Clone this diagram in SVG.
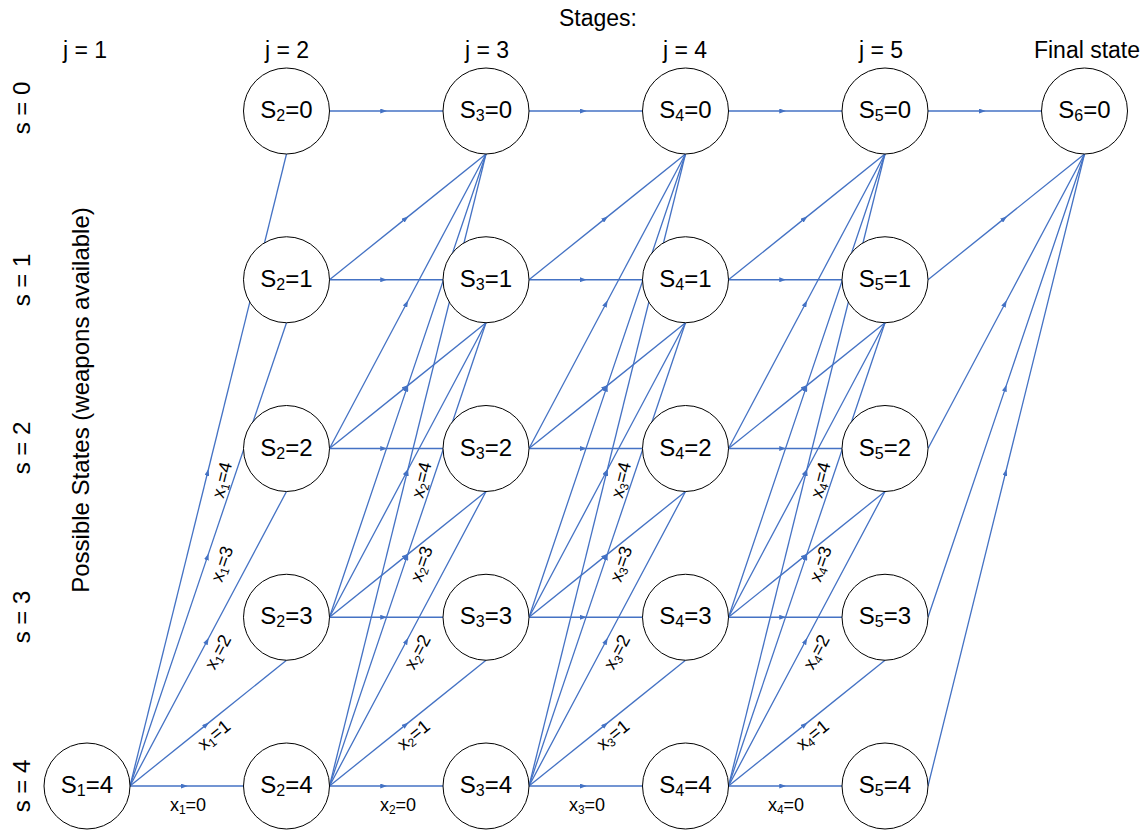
<svg xmlns="http://www.w3.org/2000/svg" width="1148" height="830" viewBox="0 0 1148 830">
  <defs>
    <marker id="arrow" viewBox="0 0 7 5" refX="6" refY="2.5" markerWidth="7" markerHeight="5" markerUnits="userSpaceOnUse" orient="auto">
      <path d="M0,0 L7,2.5 L0,5 z" fill="#4472C4"/>
    </marker>
    <style>
      text { font-family: "Liberation Sans", Arial, sans-serif; fill: #000; }
      .head { font-size: 23px; text-anchor: middle; }
      .state { font-size: 24px; text-anchor: middle; }
      .node circle { fill: #fff; stroke: #000; stroke-width: 1; }
      .node text { font-size: 24px; text-anchor: middle; }
      .sub { font-size: 16px; }
      .edges path { fill: none; stroke: #4472C4; stroke-width: 1.3; marker-mid: url(#arrow); }
      .lbl { font-size: 18px; text-anchor: middle; }
      .lsub { font-size: 12px; }
    </style>
  </defs>
  <rect width="1148" height="830" fill="#fff"/>

  <!-- stage headings -->
  <g id="headings">
    <text class="head" x="598" y="26">Stages:</text>
    <text class="head" x="85" y="58">j = 1</text>
    <text class="head" x="287" y="58">j = 2</text>
    <text class="head" x="487" y="58">j = 3</text>
    <text class="head" x="685" y="58">j = 4</text>
    <text class="head" x="881" y="58">j = 5</text>
    <text class="head" x="1087" y="58">Final state</text>
  </g>

  <!-- state headings down the left side -->
  <g id="state-axis">
    <text class="state" transform="translate(30,108) rotate(-90)">s = 0</text>
    <text class="state" transform="translate(30,280) rotate(-90)">s = 1</text>
    <text class="state" transform="translate(30,448) rotate(-90)">s = 2</text>
    <text class="state" transform="translate(30,617) rotate(-90)">s = 3</text>
    <text class="state" transform="translate(30,786) rotate(-90)">s = 4</text>
    <text class="state" transform="translate(89,400) rotate(-90)">Possible States (weapons available)</text>
  </g>

  <!-- transitions: from state s to state s - x at the next stage -->
  <g id="connectors" class="edges">
    <!-- stage 1 -->
    <path d="M130,786 L186.75,786 L243.5,786"/>
    <path d="M130,786 L208.25,723.125 L286.5,660.25"/>
    <path d="M130,786 L208.25,638.75 L286.5,491.5"/>
    <path d="M130,786 L208.25,554.375 L286.5,322.75"/>
    <path d="M130,786 L208.25,470 L286.5,154"/>

    <!-- stage 2 -->
    <path d="M329.5,111 L386.25,111 L443,111"/>
    <path d="M329.5,279.75 L386.25,279.75 L443,279.75"/>
    <path d="M329.5,279.75 L407.75,216.875 L486,154"/>
    <path d="M329.5,448.5 L386.25,448.5 L443,448.5"/>
    <path d="M329.5,448.5 L407.75,385.625 L486,322.75"/>
    <path d="M329.5,448.5 L407.75,301.25 L486,154"/>
    <path d="M329.5,617.25 L386.25,617.25 L443,617.25"/>
    <path d="M329.5,617.25 L407.75,554.375 L486,491.5"/>
    <path d="M329.5,617.25 L407.75,470 L486,322.75"/>
    <path d="M329.5,617.25 L407.75,385.625 L486,154"/>
    <path d="M329.5,786 L386.25,786 L443,786"/>
    <path d="M329.5,786 L407.75,723.125 L486,660.25"/>
    <path d="M329.5,786 L407.75,638.75 L486,491.5"/>
    <path d="M329.5,786 L407.75,554.375 L486,322.75"/>
    <path d="M329.5,786 L407.75,470 L486,154"/>

    <!-- stage 3 -->
    <path d="M529,111 L585.75,111 L642.5,111"/>
    <path d="M529,279.75 L585.75,279.75 L642.5,279.75"/>
    <path d="M529,279.75 L607.25,216.875 L685.5,154"/>
    <path d="M529,448.5 L585.75,448.5 L642.5,448.5"/>
    <path d="M529,448.5 L607.25,385.625 L685.5,322.75"/>
    <path d="M529,448.5 L607.25,301.25 L685.5,154"/>
    <path d="M529,617.25 L585.75,617.25 L642.5,617.25"/>
    <path d="M529,617.25 L607.25,554.375 L685.5,491.5"/>
    <path d="M529,617.25 L607.25,470 L685.5,322.75"/>
    <path d="M529,617.25 L607.25,385.625 L685.5,154"/>
    <path d="M529,786 L585.75,786 L642.5,786"/>
    <path d="M529,786 L607.25,723.125 L685.5,660.25"/>
    <path d="M529,786 L607.25,638.75 L685.5,491.5"/>
    <path d="M529,786 L607.25,554.375 L685.5,322.75"/>
    <path d="M529,786 L607.25,470 L685.5,154"/>

    <!-- stage 4 -->
    <path d="M728.5,111 L785.25,111 L842,111"/>
    <path d="M728.5,279.75 L785.25,279.75 L842,279.75"/>
    <path d="M728.5,279.75 L806.75,216.875 L885,154"/>
    <path d="M728.5,448.5 L785.25,448.5 L842,448.5"/>
    <path d="M728.5,448.5 L806.75,385.625 L885,322.75"/>
    <path d="M728.5,448.5 L806.75,301.25 L885,154"/>
    <path d="M728.5,617.25 L785.25,617.25 L842,617.25"/>
    <path d="M728.5,617.25 L806.75,554.375 L885,491.5"/>
    <path d="M728.5,617.25 L806.75,470 L885,322.75"/>
    <path d="M728.5,617.25 L806.75,385.625 L885,154"/>
    <path d="M728.5,786 L785.25,786 L842,786"/>
    <path d="M728.5,786 L806.75,723.125 L885,660.25"/>
    <path d="M728.5,786 L806.75,638.75 L885,491.5"/>
    <path d="M728.5,786 L806.75,554.375 L885,322.75"/>
    <path d="M728.5,786 L806.75,470 L885,154"/>

    <!-- stage 5: everything left is used -->
    <path d="M928,111 L984.75,111 L1041.5,111"/>
    <path d="M928,279.75 L1006.25,216.875 L1084.5,154"/>
    <path d="M928,448.5 L1006.25,301.25 L1084.5,154"/>
    <path d="M928,617.25 L1006.25,385.625 L1084.5,154"/>
    <path d="M928,786 L1006.25,470 L1084.5,154"/>
  </g>

  <!-- decision labels on the edges leaving s = 4 -->
  <g id="edge-labels">
    <text class="lbl" x="188" y="811">x<tspan class="lsub" dy="3">1</tspan><tspan dy="-3">=0</tspan></text>
    <text class="lbl" transform="translate(214,735) rotate(-38.8)" y="6">x<tspan class="lsub" dy="3">1</tspan><tspan dy="-3">=1</tspan></text>
    <text class="lbl" transform="translate(218,652) rotate(-62)" y="6">x<tspan class="lsub" dy="3">1</tspan><tspan dy="-3">=2</tspan></text>
    <text class="lbl" transform="translate(222,564) rotate(-71.3)" y="6">x<tspan class="lsub" dy="3">1</tspan><tspan dy="-3">=3</tspan></text>
    <text class="lbl" transform="translate(222,480) rotate(-76.1)" y="6">x<tspan class="lsub" dy="3">1</tspan><tspan dy="-3">=4</tspan></text>

    <text class="lbl" x="398" y="811">x<tspan class="lsub" dy="3">2</tspan><tspan dy="-3">=0</tspan></text>
    <text class="lbl" transform="translate(413.5,735) rotate(-38.8)" y="6">x<tspan class="lsub" dy="3">2</tspan><tspan dy="-3">=1</tspan></text>
    <text class="lbl" transform="translate(417.5,652) rotate(-62)" y="6">x<tspan class="lsub" dy="3">2</tspan><tspan dy="-3">=2</tspan></text>
    <text class="lbl" transform="translate(421.5,564) rotate(-71.3)" y="6">x<tspan class="lsub" dy="3">2</tspan><tspan dy="-3">=3</tspan></text>
    <text class="lbl" transform="translate(421.5,480) rotate(-76.1)" y="6">x<tspan class="lsub" dy="3">2</tspan><tspan dy="-3">=4</tspan></text>

    <text class="lbl" x="587" y="811">x<tspan class="lsub" dy="3">3</tspan><tspan dy="-3">=0</tspan></text>
    <text class="lbl" transform="translate(613,735) rotate(-38.8)" y="6">x<tspan class="lsub" dy="3">3</tspan><tspan dy="-3">=1</tspan></text>
    <text class="lbl" transform="translate(617,652) rotate(-62)" y="6">x<tspan class="lsub" dy="3">3</tspan><tspan dy="-3">=2</tspan></text>
    <text class="lbl" transform="translate(621,564) rotate(-71.3)" y="6">x<tspan class="lsub" dy="3">3</tspan><tspan dy="-3">=3</tspan></text>
    <text class="lbl" transform="translate(621,480) rotate(-76.1)" y="6">x<tspan class="lsub" dy="3">3</tspan><tspan dy="-3">=4</tspan></text>

    <text class="lbl" x="786" y="811">x<tspan class="lsub" dy="3">4</tspan><tspan dy="-3">=0</tspan></text>
    <text class="lbl" transform="translate(812.5,735) rotate(-38.8)" y="6">x<tspan class="lsub" dy="3">4</tspan><tspan dy="-3">=1</tspan></text>
    <text class="lbl" transform="translate(816.5,652) rotate(-62)" y="6">x<tspan class="lsub" dy="3">4</tspan><tspan dy="-3">=2</tspan></text>
    <text class="lbl" transform="translate(820.5,564) rotate(-71.3)" y="6">x<tspan class="lsub" dy="3">4</tspan><tspan dy="-3">=3</tspan></text>
    <text class="lbl" transform="translate(820.5,480) rotate(-76.1)" y="6">x<tspan class="lsub" dy="3">4</tspan><tspan dy="-3">=4</tspan></text>
  </g>

  <!-- state nodes -->
  <g id="n1_4" class="node"><circle cx="87" cy="786" r="43"/><text x="87" y="793">S<tspan class="sub" dy="3">1</tspan><tspan dy="-3">=4</tspan></text></g>

  <g id="n2_0" class="node"><circle cx="286.5" cy="111" r="43"/><text x="286.5" y="118">S<tspan class="sub" dy="3">2</tspan><tspan dy="-3">=0</tspan></text></g>
  <g id="n2_1" class="node"><circle cx="286.5" cy="279.75" r="43"/><text x="286.5" y="287">S<tspan class="sub" dy="3">2</tspan><tspan dy="-3">=1</tspan></text></g>
  <g id="n2_2" class="node"><circle cx="286.5" cy="448.5" r="43"/><text x="286.5" y="456">S<tspan class="sub" dy="3">2</tspan><tspan dy="-3">=2</tspan></text></g>
  <g id="n2_3" class="node"><circle cx="286.5" cy="617.25" r="43"/><text x="286.5" y="624">S<tspan class="sub" dy="3">2</tspan><tspan dy="-3">=3</tspan></text></g>
  <g id="n2_4" class="node"><circle cx="286.5" cy="786" r="43"/><text x="286.5" y="793">S<tspan class="sub" dy="3">2</tspan><tspan dy="-3">=4</tspan></text></g>

  <g id="n3_0" class="node"><circle cx="486" cy="111" r="43"/><text x="486" y="118">S<tspan class="sub" dy="3">3</tspan><tspan dy="-3">=0</tspan></text></g>
  <g id="n3_1" class="node"><circle cx="486" cy="279.75" r="43"/><text x="486" y="287">S<tspan class="sub" dy="3">3</tspan><tspan dy="-3">=1</tspan></text></g>
  <g id="n3_2" class="node"><circle cx="486" cy="448.5" r="43"/><text x="486" y="456">S<tspan class="sub" dy="3">3</tspan><tspan dy="-3">=2</tspan></text></g>
  <g id="n3_3" class="node"><circle cx="486" cy="617.25" r="43"/><text x="486" y="624">S<tspan class="sub" dy="3">3</tspan><tspan dy="-3">=3</tspan></text></g>
  <g id="n3_4" class="node"><circle cx="486" cy="786" r="43"/><text x="486" y="793">S<tspan class="sub" dy="3">3</tspan><tspan dy="-3">=4</tspan></text></g>

  <g id="n4_0" class="node"><circle cx="685.5" cy="111" r="43"/><text x="685.5" y="118">S<tspan class="sub" dy="3">4</tspan><tspan dy="-3">=0</tspan></text></g>
  <g id="n4_1" class="node"><circle cx="685.5" cy="279.75" r="43"/><text x="685.5" y="287">S<tspan class="sub" dy="3">4</tspan><tspan dy="-3">=1</tspan></text></g>
  <g id="n4_2" class="node"><circle cx="685.5" cy="448.5" r="43"/><text x="685.5" y="456">S<tspan class="sub" dy="3">4</tspan><tspan dy="-3">=2</tspan></text></g>
  <g id="n4_3" class="node"><circle cx="685.5" cy="617.25" r="43"/><text x="685.5" y="624">S<tspan class="sub" dy="3">4</tspan><tspan dy="-3">=3</tspan></text></g>
  <g id="n4_4" class="node"><circle cx="685.5" cy="786" r="43"/><text x="685.5" y="793">S<tspan class="sub" dy="3">4</tspan><tspan dy="-3">=4</tspan></text></g>

  <g id="n5_0" class="node"><circle cx="885" cy="111" r="43"/><text x="885" y="118">S<tspan class="sub" dy="3">5</tspan><tspan dy="-3">=0</tspan></text></g>
  <g id="n5_1" class="node"><circle cx="885" cy="279.75" r="43"/><text x="885" y="287">S<tspan class="sub" dy="3">5</tspan><tspan dy="-3">=1</tspan></text></g>
  <g id="n5_2" class="node"><circle cx="885" cy="448.5" r="43"/><text x="885" y="456">S<tspan class="sub" dy="3">5</tspan><tspan dy="-3">=2</tspan></text></g>
  <g id="n5_3" class="node"><circle cx="885" cy="617.25" r="43"/><text x="885" y="624">S<tspan class="sub" dy="3">5</tspan><tspan dy="-3">=3</tspan></text></g>
  <g id="n5_4" class="node"><circle cx="885" cy="786" r="43"/><text x="885" y="793">S<tspan class="sub" dy="3">5</tspan><tspan dy="-3">=4</tspan></text></g>

  <g id="n6_0" class="node"><circle cx="1084.5" cy="111" r="43"/><text x="1084.5" y="118">S<tspan class="sub" dy="3">6</tspan><tspan dy="-3">=0</tspan></text></g>
</svg>
